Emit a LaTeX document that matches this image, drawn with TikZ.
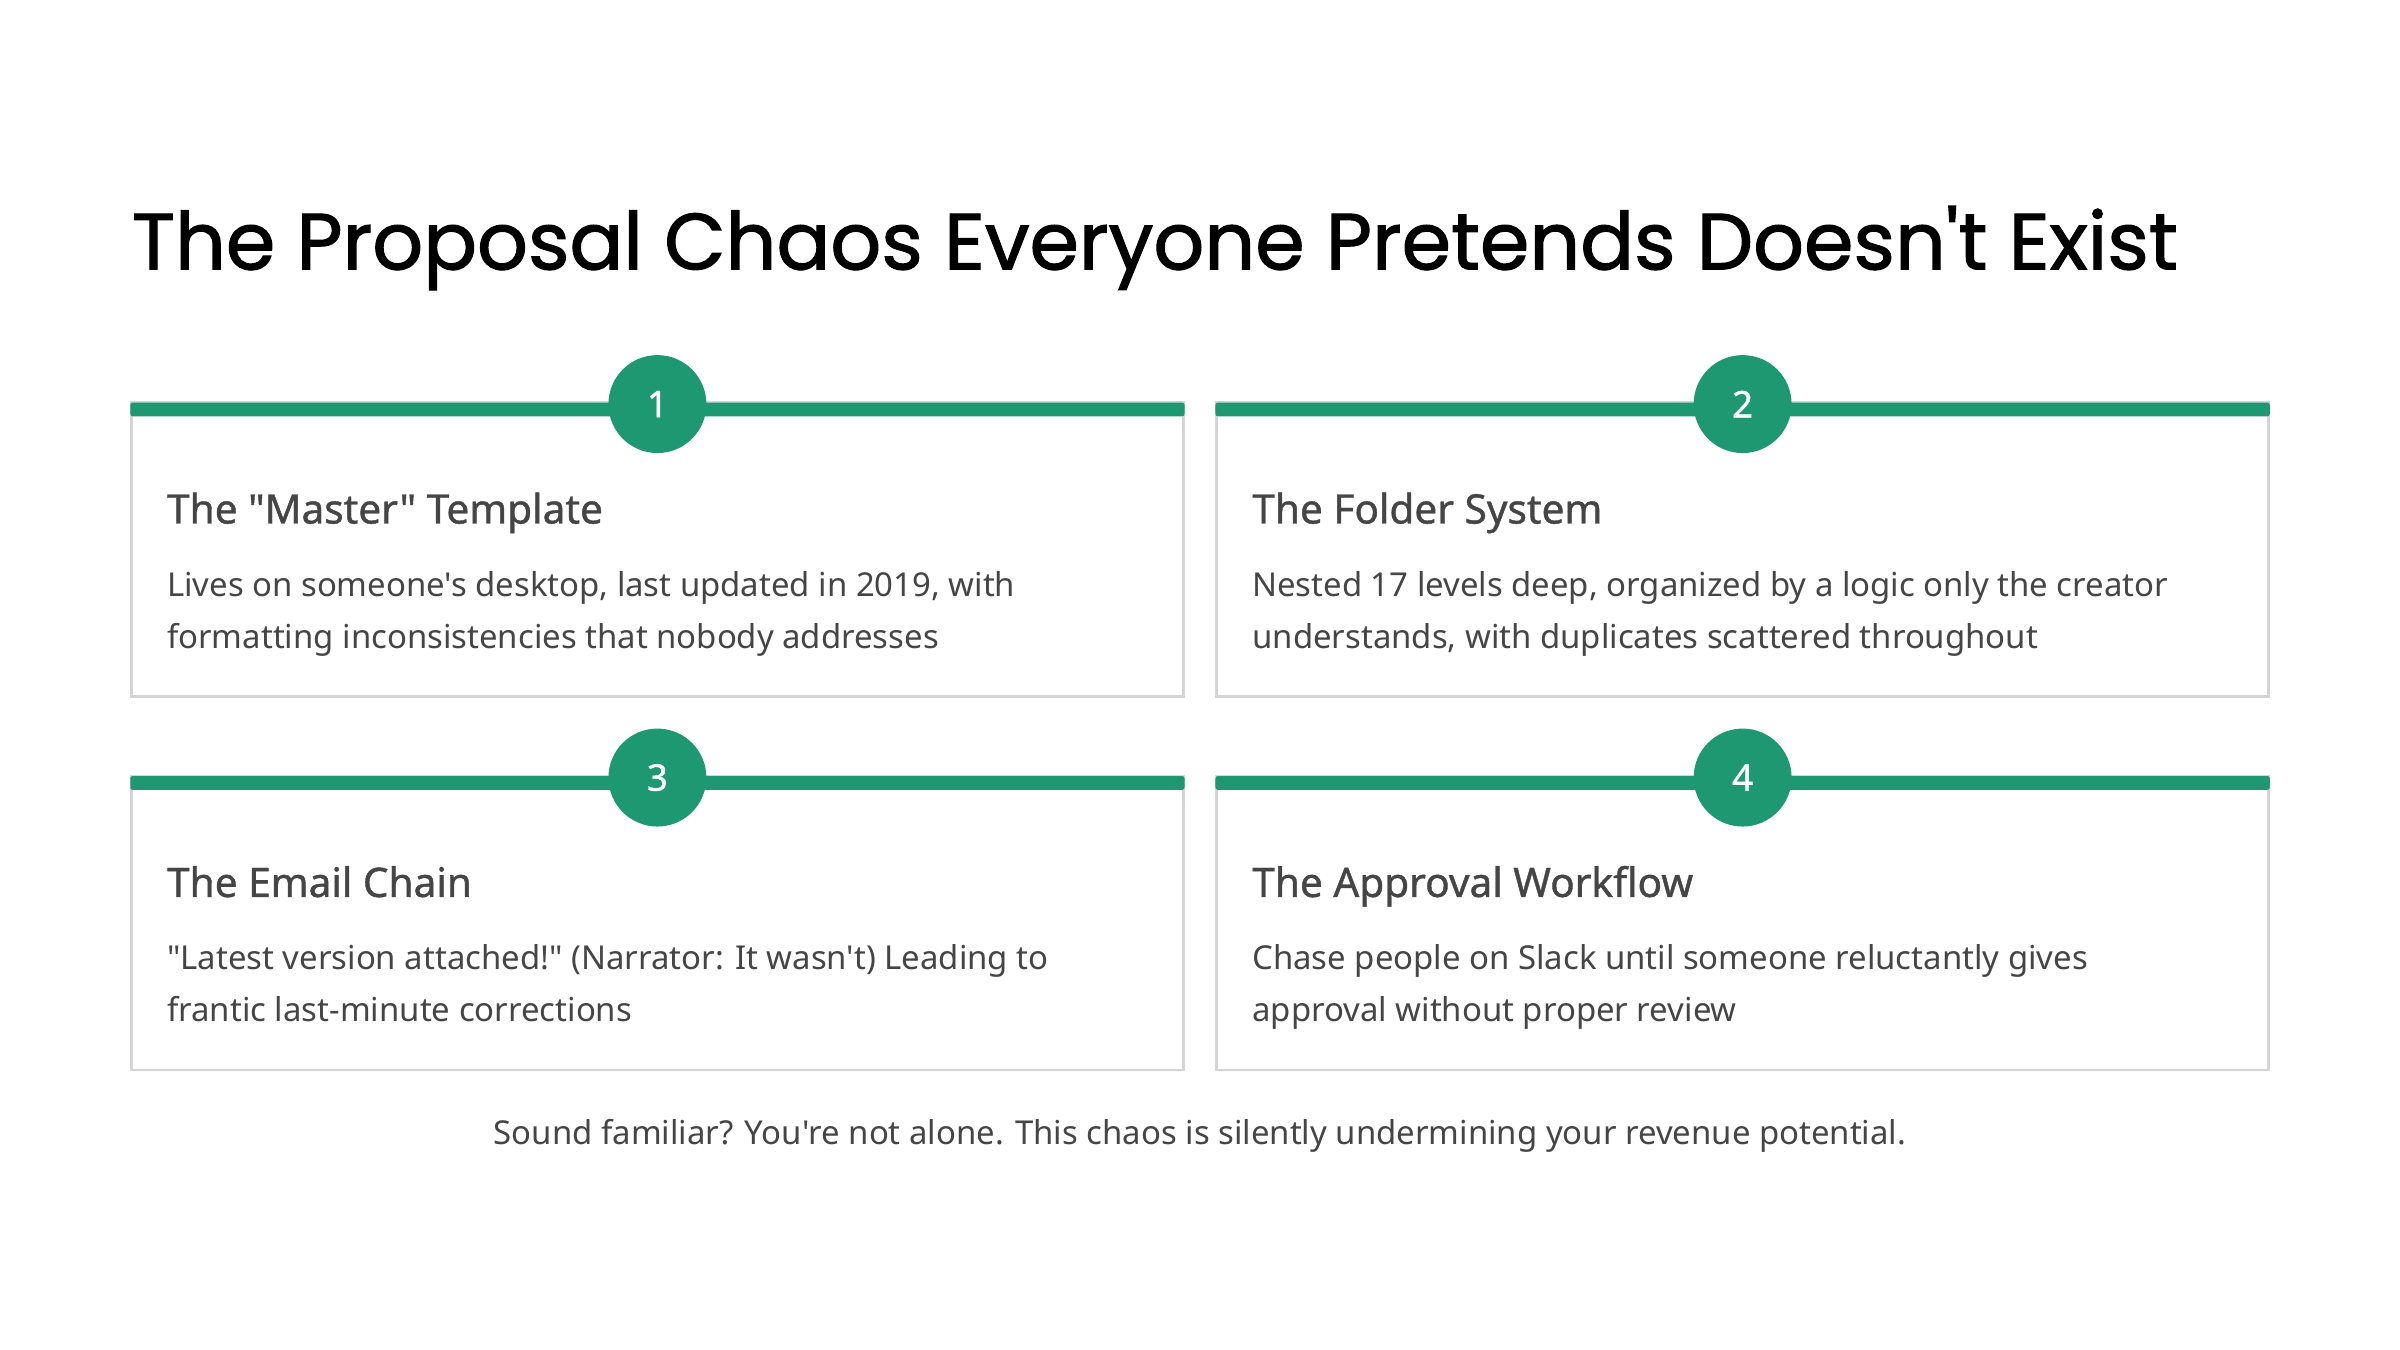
\documentclass[tikz,border=0pt]{standalone}
\usepackage{fontspec}
\newfontfamily\bodyfont{Noto Sans}
\newfontfamily\titlefont{Poppins}[FakeBold=1.4]
\newfontfamily\headfont{Noto Sans}[FakeBold=1.0]
\definecolor{grn}{HTML}{1E9870}
\definecolor{txt}{HTML}{454545}
\definecolor{brd}{HTML}{D4D4D4}
\begin{document}
\begin{tikzpicture}[x=1pt,y=-1pt,
  card/.style={draw=brd,line width=1.8pt,fill=white},
  bar/.style={fill=grn},
  num/.style={circle,fill=grn,minimum size=64pt,inner sep=0pt,text=white,font=\headfont\fontsize{24}{26}\selectfont},
  head/.style={anchor=base west,text=txt,font=\headfont\fontsize{26.5}{30}\selectfont,inner sep=0pt},
  body/.style={anchor=north west,text=txt,font=\bodyfont\fontsize{21.5}{34}\selectfont,align=left,inner sep=0pt}]
\useasboundingbox (0,0) rectangle (1568,882);
\fill[white] (0,0) rectangle (1568,882);
\node[anchor=base west,inner sep=0pt,font=\titlefont\fontsize{52}{60}\selectfont] (title) at (86,176) {The Proposal Chaos Everyone Pretends Doesn't Exist};
\foreach \x/\y/\n/\h/\a/\b in {
 86/263/1/{The "Master" Template}/{Lives on someone's desktop, last updated in 2019, with}/{formatting inconsistencies that nobody addresses},
 795/263/2/{The Folder System}/{Nested 17 levels deep, organized by a logic only the creator}/{understands, with duplicates scattered throughout},
 86/507/3/{The Email Chain}/{"Latest version attached!" (Narrator: It wasn't) Leading to}/{frantic last-minute corrections},
 795/507/4/{The Approval Workflow}/{Chase people on Slack until someone reluctantly gives}/{approval without proper review}}{
 \draw[card] (\x,\y) rectangle ++(687,192);
 \fill[bar,rounded corners=1.5pt] (\x-0.9,\y) rectangle ++(688.8,9);
 \node[num] (n\n) at (\x+343.5,\y+1) {\n};
 \node[head] (h\n) at (\x+23,\y+79) {\h};
 \node[body] (b\n) at (\x+23,\y+110) {\a\\\b};
}
\node[text=txt,font=\bodyfont\fontsize{21.5}{24}\selectfont,anchor=base] (foot) at (784,748) {Sound familiar? You're not alone. This chaos is silently undermining your revenue potential.};
\end{tikzpicture}
\end{document}
